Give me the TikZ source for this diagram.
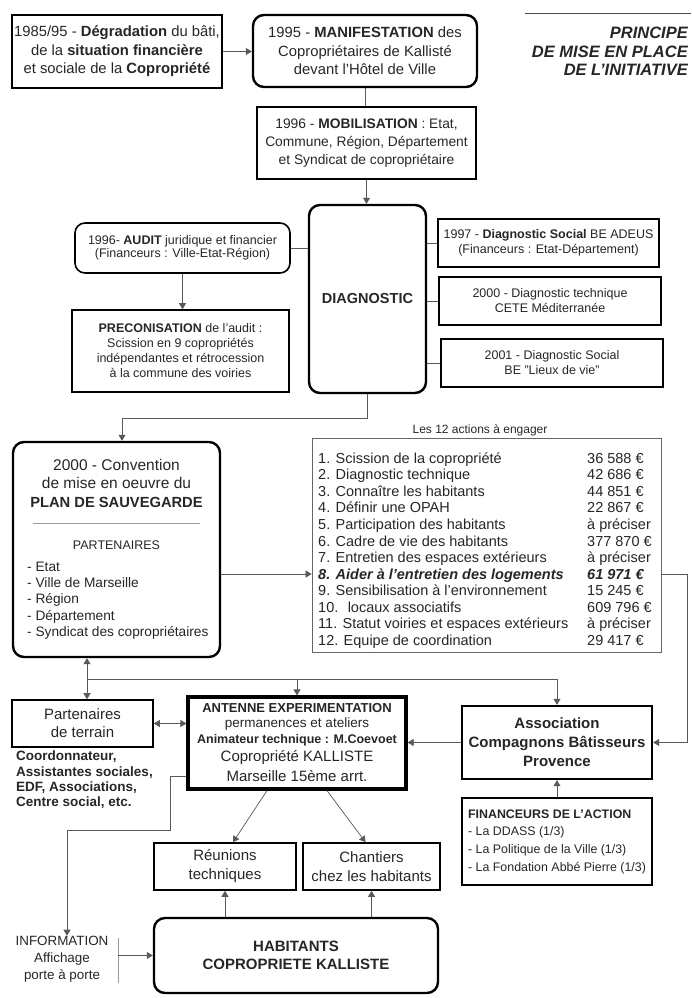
\documentclass[tikz,border=0pt]{standalone}
\usepackage{fontspec}
\setmainfont{Liberation Sans}
\usetikzlibrary{arrows.meta}
\newcommand{\fsz}[2]{\fontsize{#1}{#2}\selectfont}

\begin{document}
\begin{tikzpicture}
  [x=1pt,y=-1pt,
   every node/.style={text=black!85},
   box/.style={draw,inner sep=0pt,align=center},
   rbox/.style={box,rounded corners=11pt},
   txt/.style={inner sep=0pt},
   conn/.style={draw=black!65,line width=0.7pt},
   arr/.style={conn,-{Triangle[width=7pt,length=6pt]}},
   darr/.style={conn,{Triangle[width=7pt,length=6pt]}-{Triangle[width=7pt,length=6pt]}}]
  \useasboundingbox (0,0) rectangle (691,998);

  % titre
  \draw[line width=0.8pt,black!70] (525,13) -- (691,13);
  \node[txt,align=right,anchor=east,font=\fsz{16.5}{18.5}\bfseries\itshape] (title) at (688,51.5)
    {PRINCIPE\\DE MISE EN PLACE\\DE L'INITIATIVE};

  % haut
  \node[box,line width=1.6pt,minimum width=210pt,minimum height=73pt,font=\fsz{14.8}{18.5}] (degrad) at (117,51.5)
    {1985/95 - \textbf{Dégradation} du bâti,\\de la \textbf{situation financière}\\et sociale de la \textbf{Copropriété}};
  \node[rbox,line width=2.4pt,minimum width=224pt,minimum height=72pt,font=\fsz{14.8}{18.5}] (manif) at (365,51)
    {1995 - \textbf{MANIFESTATION} des\\Copropriétaires de Kallisté\\devant l'Hôtel de Ville};
  \node[box,line width=1.4pt,minimum width=219pt,minimum height=72pt,font=\fsz{13.8}{18}] (mobil) at (366.5,143)
    {1996 - \textbf{MOBILISATION} : Etat,\\Commune, Région, Département\\et Syndicat de copropriétaire};

  % diagnostic
  \node[rbox,line width=2.4pt,minimum width=117pt,minimum height=188pt,font=\fsz{14.5}{17}\bfseries] (diag) at (367.5,299)
    {DIAGNOSTIC};
  \node[rbox,rounded corners=10pt,line width=1.6pt,minimum width=215pt,minimum height=50pt,font=\fsz{12.5}{13.5}] (audit) at (182.5,248)
    {1996- \textbf{AUDIT} juridique et financier\\(Financeurs : Ville-Etat-Région)};
  \node[box,line width=1.6pt,minimum width=217pt,minimum height=82pt,font=\fsz{12.5}{15}] (precon) at (180.5,351)
    {\textbf{PRECONISATION} de l'audit :\\Scission en 9 copropriétés\\indépendantes et rétrocession\\à la commune des voiries};
  \node[box,line width=1.2pt,minimum width=221pt,minimum height=48pt,font=\fsz{12.5}{15}] (d1997) at (548.5,243)
    {1997 - \textbf{Diagnostic Social} BE ADEUS\\(Financeurs : Etat-Département)};
  \node[box,line width=1.2pt,minimum width=222pt,minimum height=48pt,font=\fsz{12.5}{15}] (d2000) at (550,301)
    {2000 - Diagnostic technique\\CETE Méditerranée};
  \node[box,line width=1.2pt,minimum width=222pt,minimum height=48pt,font=\fsz{12.5}{15}] (d2001) at (552,363)
    {2001 - Diagnostic Social\\BE "Lieux de vie"};

  % plan de sauvegarde
  \node[rbox,line width=2.4pt,minimum width=207pt,minimum height=215pt] (plan) at (116.5,549.5) {};
  \node[txt,align=center,font=\fsz{15.5}{18.5}] (plantitle) at (116.5,483)
    {2000 - Convention\\de mise en oeuvre du\\{\fsz{14.7}{18.5}\bfseries PLAN DE SAUVEGARDE}};
  \draw[black!40,line width=0.8pt] (33,523) -- (200,523);
  \node[txt,font=\fsz{12.5}{15}] (partlabel) at (116.5,545) {PARTENAIRES};
  \node[txt,align=left,anchor=west,font=\fsz{13.7}{16.3}] (partlist) at (27,600.5)
    {- Etat\\- Ville de Marseille\\- Région\\- Département\\- Syndicat des copropriétaires};

  % les 12 actions
  \node[txt,font=\fsz{12}{14}] (actlabel) at (480,430) {Les 12 actions à engager};
  \node[box,draw=black!60,line width=0.8pt,minimum width=349pt,minimum height=214pt] (actions) at (486.5,545) {};
  \node[txt,align=left,anchor=south west,text depth=0pt,font={\fsz{14.5}{16.55}\lineskiplimit=-20pt}] (actlist) at (318,645.5)
    {1. Scission de la copropriété\\2. Diagnostic technique\\3. Connaître les habitants\\4. Définir une OPAH\\
     5. Participation des habitants\\6. Cadre de vie des habitants\\7. Entretien des espaces extérieurs\\
     \textbf{\textit{8. Aider à l'entretien des logements}}\\9. Sensibilisation à l'environnement\\
     10.~ locaux associatifs\\11. Statut voiries et espaces extérieurs\\12. Equipe de coordination};
  \node[txt,align=left,anchor=south west,text depth=0pt,font={\fsz{14.5}{16.55}\lineskiplimit=-20pt}] (actcost) at (587,645.5)
    {36 588 €\\42 686 €\\44 851 €\\22 867 €\\à préciser\\377 870 €\\à préciser\\
     \textbf{\textit{61 971 €}}\\15 245 €\\609 796 €\\à préciser\\29 417 €};
  \coordinate (row8) at (486,574);

  % terrain
  \node[box,line width=1.6pt,minimum width=141pt,minimum height=47pt,font=\fsz{15}{18}] (parten) at (82.5,723.5)
    {Partenaires\\de terrain};
  \node[txt,align=left,anchor=west,font=\fsz{13.5}{15.3}\bfseries] (terrain) at (16,780)
    {Coordonnateur,\\Assistantes sociales,\\EDF, Associations,\\Centre social, etc.};
  \node[box,line width=3.2pt,minimum width=218pt,minimum height=92pt,font={\fsz{13}{15}\lineskiplimit=-20pt}] (antenne) at (297,743)
    {\bfseries ANTENNE EXPERIMENTATION\\
     \fsz{13.5}{15}permanences et ateliers\\[1pt]
     \fsz{12.5}{15}\bfseries Animateur technique : M.Coevoet\\[3pt]
     \fsz{15}{15}Copropriété KALLISTE\\[5pt]
     \fsz{15}{15}Marseille 15ème arrt.};
  \node[box,line width=2.4pt,minimum width=190pt,minimum height=73pt,font=\fsz{15}{19}\bfseries] (assoc) at (557,742.5)
    {Association\\Compagnons Bâtisseurs\\Provence};
  \node[box,line width=2pt,minimum width=190pt,minimum height=87pt,align=left,font=\fsz{12.4}{17.7}] (finan) at (557,841.5)
    {\textbf{FINANCEURS DE L'ACTION}\\- La DDASS (1/3)\\- La Politique de la Ville (1/3)\\- La Fondation Abbé Pierre (1/3)};

  % bas
  \node[box,line width=1.6pt,minimum width=142pt,minimum height=47pt,font=\fsz{15}{19}] (reun) at (225,866.5)
    {Réunions\\techniques};
  \node[box,line width=1.6pt,minimum width=137pt,minimum height=47pt,font=\fsz{15}{19}] (chant) at (371.5,866.5)
    {Chantiers\\chez les habitants};
  \node[rbox,line width=2.4pt,minimum width=284pt,minimum height=75pt,font=\fsz{15}{18}\bfseries] (habit) at (296,955.5)
    {HABITANTS\\COPROPRIETE KALLISTE};
  \node[txt,align=center,font=\fsz{13.4}{17}] (info) at (62,959)
    {INFORMATION\\Affichage\\porte à porte};

  % liaisons
  \draw[arr] (degrad.east) -- (degrad.east -| manif.west);
  \draw[conn] (manif.south) -- (manif.south |- mobil.north);
  \draw[arr] (mobil.south) -- (mobil.south |- diag.north);
  \draw[conn] (audit.east) -- (audit.east -| diag.west);
  \draw[arr] (audit.south) -- (audit.south |- precon.north);
  \draw[conn] (d1997.west) -- (d1997.west -| diag.east);
  \draw[conn] (d2000.west) -- (d2000.west -| diag.east);
  \draw[conn] (d2001.west) -- (d2001.west -| diag.east);
  \coordinate (diagturn) at (122,418);
  \draw[arr] (diag.south) |- (diagturn) -- (diagturn |- plan.north);
  \draw[arr] (plan.east |- row8) -- (actions.west |- row8);
  \coordinate (rturn) at (687,574);
  \draw[arr] (actions.east |- row8) -- (rturn) |- (assoc.east);

  \coordinate (bus) at (87,679);
  \draw[darr] (plan.south -| bus) -- (parten.north -| bus);
  \draw[conn] (bus) -- (bus -| assoc.north);
  \draw[arr] (bus -| antenne.north) -- (antenne.north);
  \draw[arr] (bus -| assoc.north) -- (assoc.north);
  \draw[darr] (parten.east) -- (parten.east -| antenne.west);
  \draw[arr] (assoc.west) -- (assoc.west -| antenne.east);
  \draw[arr] (finan.north) -- (assoc.south);

  \draw[arr] ([xshift=-30pt]antenne.south) -- ([xshift=8pt]reun.north);
  \draw[arr] ([xshift=30pt]antenne.south) -- ([xshift=-6pt]chant.north);
  \draw[arr] (habit.north -| reun.south) -- (reun.south);
  \draw[arr] (habit.north -| chant.south) -- (chant.south);

  \coordinate (infoA) at (170,776);
  \coordinate (infoB) at (67,830);
  \draw[arr] (antenne.west |- infoA) -- (infoA) |- (infoB) -- (infoB |- info.north);
  \coordinate (bartop) at (118,938);
  \coordinate (barbot) at (118,983);
  \draw[conn,black!40] (bartop) -- (barbot);
  \draw[arr] (bartop |- habit.west) -- (habit.west);
\end{tikzpicture}
\end{document}
